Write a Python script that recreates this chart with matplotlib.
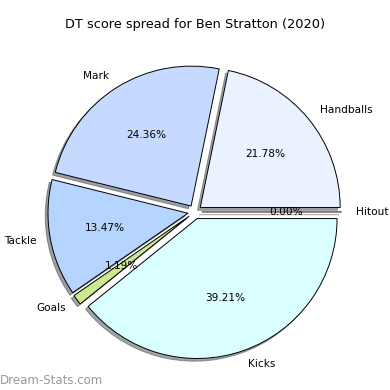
import matplotlib.pyplot as plt

labels = ['Handballs', 'Mark', 'Tackle', 'Goals', 'Kicks', 'Hitout']
values = [21.78, 24.36, 13.47, 1.19, 39.21, 0.0]
colors = ['#EAF1FF', '#C6DAFF', '#B5D5FF', '#CCE890', '#DAFFFF', '#FFE0E0']
explode = [0.05, 0.05, 0.05, 0.05, 0.05, 0.05]

fig = plt.figure(figsize=(3.9, 3.9), dpi=100)
ax = fig.add_axes([0.051, 0.008, 0.897, 0.897])
ax.pie(values, labels=labels, colors=colors, explode=explode,
       shadow={'ox': -0.014, 'oy': -0.014},
       autopct='%1.2f%%', wedgeprops={'edgecolor': 'black', 'linewidth': 0.7},
       textprops={'fontsize': 7.6})
ax.set_aspect('equal')
fig.suptitle('DT score spread for Ben Stratton (2020)', fontsize=9.3, y=0.955)
fig.text(0.0, 0.015, 'Dream-Stats.com', fontsize=8.5, color='#999999')
plt.savefig('out.png')
